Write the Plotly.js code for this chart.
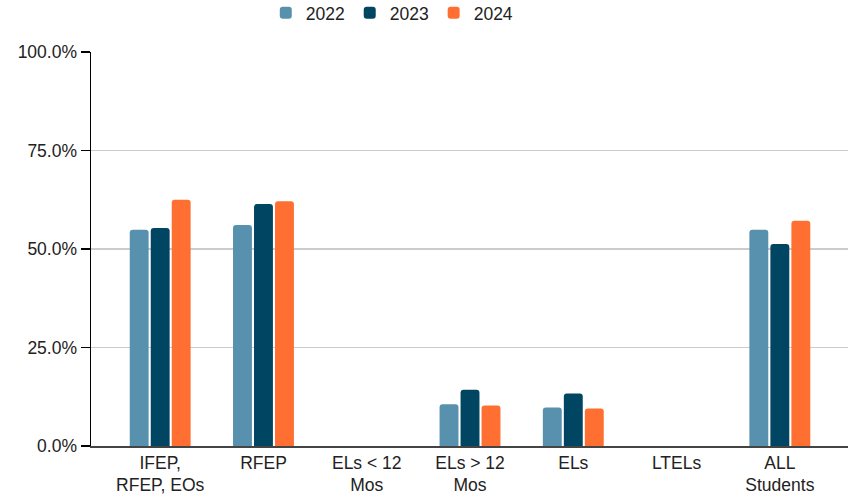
<!DOCTYPE html>
<html><head><meta charset="utf-8">
<script src="https://cdn.plot.ly/plotly-3.0.1.min.js"></script>
<style>html,body{margin:0;padding:0;background:#fff}#chart{width:857px;height:499px}</style>
</head><body><div id="chart"></div>
<script>
const categories = ["IFEP,<br>RFEP, EOs", "RFEP", "ELs < 12<br>Mos", "ELs > 12<br>Mos", "ELs", "LTELs", "ALL<br>Students"];
const series = ["2022", "2023", "2024"];
const v2022 = [0.549, 0.561, null, 0.106, 0.098, null, 0.549];
const v2023 = [0.553, 0.614, null, 0.143, 0.133, null, 0.513];
const v2024 = [0.625, 0.621, null, 0.103, 0.095, null, 0.572];
const colors = ["#5891AD", "#004561", "#FF6F31"];
const yTicks = [0, 0.25, 0.5, 0.75, 1.0];

const values = [v2022, v2023, v2024];
const traces = series.map((s, i) => ({
  type: "bar", name: s, x: categories, y: values[i],
  marker: {color: colors[i], cornerradius: 3}
}));
const layout = {
  width: 857, height: 499,
  margin: {l: 91, r: 9, t: 52, b: 53},
  font: {family: "Liberation Sans, Arial, sans-serif", size: 17.5, color: "#222"},
  barmode: "group", bargap: 0.39, bargroupgap: 0.1,
  showlegend: true,
  legend: {orientation: "h", x: 0.398, xanchor: "center", y: 0.974, yanchor: "middle", yref: "container",
           font: {size: 17.5, color: "#222"}, traceorder: "normal", itemwidth: 30},
  xaxis: {range: [-0.67, 6.66], showgrid: false, zeroline: false, showline: true, linecolor: "#444", linewidth: 1.5, ticks: "", tickfont: {size: 17.5}},
  yaxis: {range: [0, 1.0], tickvals: yTicks, tickformat: ".1%", showgrid: true, gridcolor: "#cccccc", gridwidth: 1.2,
          zeroline: false, showline: true, linecolor: "#000", linewidth: 1.5, ticks: "outside", ticklen: 9, tickcolor: "#000", tickwidth: 1.5, tickfont: {size: 17.5}},
  plot_bgcolor: "#fff", paper_bgcolor: "#fff"
};
Plotly.newPlot("chart", traces, layout, {displayModeBar: false, staticPlot: true});
</script></body></html>
